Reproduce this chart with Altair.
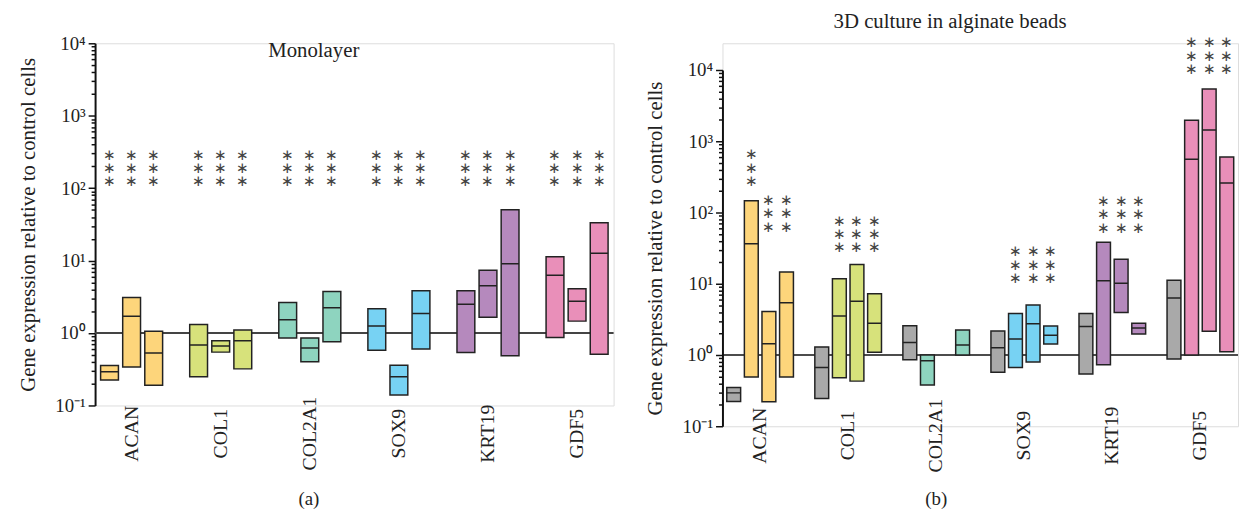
import altair as alt
import pandas as pd

FONT = "Liberation Serif"

genes = ["ACAN", "COL1", "COL2A1", "SOX9", "KRT19", "GDF5"]

# ---- Monolayer (3 conditions per gene) ----
mono_conditions = ["C1", "C2", "C3"]
mono_low = [0.224, 0.34, 0.19, 0.25, 0.545, 0.32, 0.855, 0.40, 0.76,
            0.58, 0.14, 0.60, 0.54, 1.65, 0.485, 0.87, 1.46, 0.51]
mono_med = [0.293, 1.71, 0.53, 0.685, 0.66, 0.78, 1.52, 0.62, 2.24,
            1.25, 0.25, 1.86, 2.49, 4.5, 9.04, 6.28, 2.74, 12.6]
mono_high = [0.355, 3.1, 1.06, 1.31, 0.78, 1.10, 2.63, 0.855, 3.75,
             2.17, 0.358, 3.83, 3.83, 7.35, 50.5, 11.3, 4.08, 33.3]
mono_star = [190] * 18

# ---- 3D culture in alginate beads (control + 3 conditions per gene) ----
alg_conditions = ["C0", "C1", "C2", "C3"]
alg_low = [0.223, 0.49, 0.22, 0.49, 0.245, 0.48, 0.43, 1.09,
           0.86, 0.38, None, 1.0, 0.574, 0.667, 0.8, 1.43,
           0.54, 0.73, 3.95, 1.97, 0.88, 1.0, 2.15, 1.11]
alg_med = [0.294, 36.5, 1.44, 5.43, 0.67, 3.54, 5.66, 2.8,
           1.5, 0.83, None, 1.38, 1.26, 1.68, 2.74, 1.89,
           2.52, 11.0, 10.2, 2.39, 6.3, 557, 1435, 259]
alg_high = [0.35, 146, 4.07, 14.6, 1.30, 11.8, 18.6, 7.25,
            2.57, 1.0, None, 2.24, 2.17, 3.82, 5.03, 2.55,
            3.82, 38.1, 22.1, 2.8, 11.2, 1976, 5430, 600]
alg_star = [None, 423, 97, 97, None, 49.7, 49.7, 49.7,
            None, None, None, None, None, 18.5, 18.5, 18.5,
            None, 94, 94, 94, None, 15800, 15800, 15800]

color_keys = ["ACAN", "COL1", "COL2A1", "SOX9", "KRT19", "GDF5", "Control"]
color_vals = ["#FDD57B", "#D7E27B", "#8ED4BF", "#77D2F3", "#B589BD", "#E98FB9", "#A9A9A9"]

Y_TITLE = "Gene expression relative to control cells"


def make_df(conds, low, med, high, star):
    rows = []
    i = 0
    for g in genes:
        for c in conds:
            rows.append({"gene": g, "cond": c, "low": low[i], "med": med[i],
                         "high": high[i], "star": star[i],
                         "key": "Control" if c == "C0" else g})
            i += 1
    return pd.DataFrame(rows)


tick_vals = [m * 10.0 ** e for e in range(-1, 4) for m in range(1, 10)] + [10000.0]
major_test = "abs(log(datum.value)/LN10 - round(log(datum.value)/LN10)) < 0.001"
label_expr = (
    f"({major_test}) ? (datum.value >= 9999 ? '10⁴' : datum.value >= 999 ? '10³' : "
    "datum.value >= 99 ? '10²' : datum.value >= 9.99 ? '10¹' : datum.value >= 0.999 ? '10⁰' : '10⁻¹') : ''"
)


def panel(df, conds, width, height, yrange, title_y_pos, p_in, p_out, off_pad, label_pad,
          rule_color, rule_width, title_text, title_x, title_y,
          caption, cap_x, cap_y):
    yscale = alt.Scale(type="log", domain=[0.1, 10000], nice=False, range=yrange)
    yaxis = alt.Axis(
        title=Y_TITLE, values=tick_vals, labelExpr=label_expr, labelOverlap=False,
        labelFlush=False, grid=False, domainColor="#111", domainWidth=2,
        tickColor="#111", tickWidth=1.5,
        tickSize={"condition": {"test": major_test, "value": 7}, "value": 4},
        labelFont=FONT, labelFontSize=19, labelColor="#222", labelPadding=3,
        titleFont=FONT, titleFontSize=21, titleFontWeight="normal", titleColor="#222",
        titlePadding=17, titleY=title_y_pos,
    )
    xenc = alt.X("gene:N", sort=genes,
                 scale=alt.Scale(domain=genes, paddingInner=p_in, paddingOuter=p_out),
                 axis=alt.Axis(title=None, labelAngle=270, labelAlign="center",
                               labelBaseline="middle", labelPadding=label_pad,
                               ticks=False, tickSize=0, domain=False,
                               labelFont=FONT, labelFontSize=20, labelColor="#222"))
    xoff = alt.XOffset("cond:N", sort=conds,
                       scale=alt.Scale(domain=conds, paddingInner=off_pad, paddingOuter=0))

    boxes_df = df.dropna(subset=["low"])
    base = alt.Chart(boxes_df)
    boxes = base.mark_bar(stroke="#222", strokeWidth=1.5).encode(
        x=xenc, xOffset=xoff,
        y=alt.Y("low:Q", scale=yscale, axis=yaxis),
        y2="high:Q",
        fill=alt.Fill("key:N", scale=alt.Scale(domain=color_keys, range=color_vals),
                      legend=None),
    )
    meds = base.mark_bar(stroke="#222", strokeWidth=1.5, fillOpacity=0).encode(
        x=xenc, xOffset=xoff,
        y=alt.Y("med:Q", scale=yscale, axis=yaxis),
        y2="med:Q",
    )
    stars = alt.Chart(df.dropna(subset=["star"]).assign(s="∗\n∗\n∗")).mark_text(
        lineBreak="\n", lineHeight=13.5, font=FONT, fontSize=15, color="#444",
        baseline="middle", align="center", dy=-13.5,
    ).encode(
        x=xenc, xOffset=xoff,
        y=alt.Y("star:Q", scale=yscale, axis=yaxis),
        text="s:N",
    )
    rule = alt.Chart(pd.DataFrame({"v": [1.0]})).mark_rule(
        color=rule_color, strokeWidth=rule_width
    ).encode(y=alt.Y("v:Q", scale=yscale, axis=yaxis))
    title = alt.Chart(pd.DataFrame({"t": [title_text]})).mark_text(
        font=FONT, fontSize=21, color="#222", baseline="middle", align="center",
    ).encode(text="t:N", x=alt.value(title_x), y=alt.value(title_y))
    cap = alt.Chart(pd.DataFrame({"t": [caption]})).mark_text(
        font=FONT, fontSize=19, color="#222", baseline="middle", align="center",
    ).encode(text="t:N", x=alt.value(cap_x), y=alt.value(cap_y))
    return alt.layer(rule, boxes, meds, stars, title, cap).properties(
        width=width, height=height
    )


mono_df = make_df(mono_conditions, mono_low, mono_med, mono_high, mono_star)
alg_df = make_df(alg_conditions, alg_low, alg_med, alg_high, alg_star)

left = panel(mono_df, mono_conditions, 524, 366, [366, 0], 183,
             0.304, 0.062, 0.193, 28,
             "#444", 2, "Monolayer", 221, 8, "(a)", 216, 461)
right = panel(alg_df, alg_conditions, 521, 387, [387, 27], 207,
              0.243, 0.049, 0.213, 9,
              "#111", 1.5, "3D culture in alginate beads", 230, -21, "(b)", 216, 461)

chart = (
    alt.hconcat(left, right, spacing=28)
    .resolve_scale(x="independent", y="independent", xOffset="independent")
    .properties(padding={"left": 8, "top": 0, "right": 0, "bottom": 0})
    .configure_view(stroke=None)
    .configure(background="white")
)

chart.save("out.html", embed_options={"renderer": "svg", "actions": False})
